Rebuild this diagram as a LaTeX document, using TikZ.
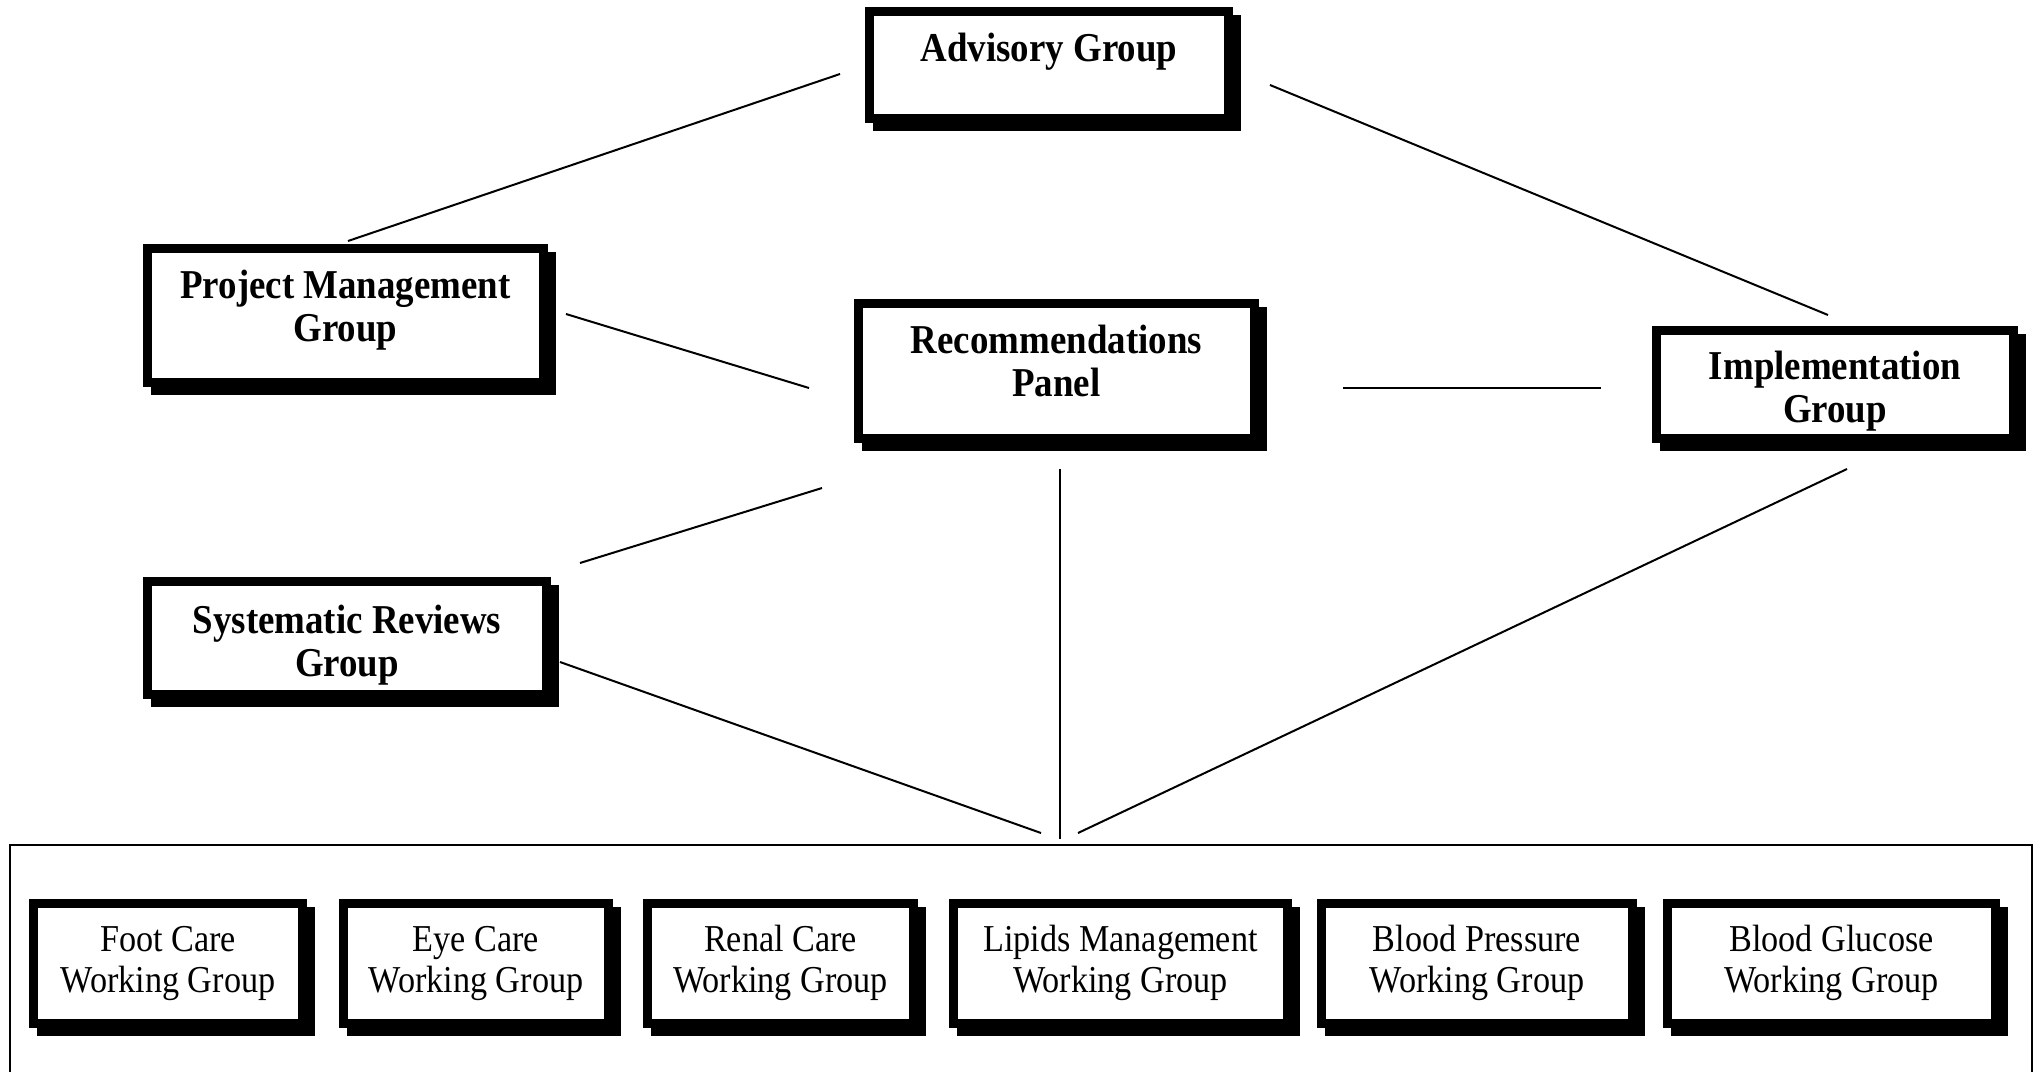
\documentclass[tikz,border=0pt]{standalone}
\usepackage{fontspec}
\setmainfont{Liberation Serif}[FakeStretch=0.9]
\usetikzlibrary{backgrounds}
\begin{document}
\begin{tikzpicture}[x=1pt,y=-1pt,
  box/.style={draw=black, line width=9pt, fill=white, inner sep=0pt, outer sep=4.5pt},
  shade/.style={fill=black},
  head/.style={font=\fontsize{41}{43}\selectfont\bfseries, anchor=base, inner sep=0pt},
  wtext/.style={font=\fontsize{38}{42}\selectfont, anchor=base, inner sep=0pt},
  conn/.style={line width=2pt, line cap=butt},
  frame/.style={line width=2.5pt}]
\useasboundingbox (0,0) rectangle (2042,1071);

% top-level boxes
\node[box, minimum width=359pt, minimum height=107pt] (A) at (1049,65) {};
\node[head] (A1) at (1049,61) {Advisory Group};

\node[box, minimum width=396pt, minimum height=134pt] (P) at (345.5,315.5) {};
\node[head] (P1) at (345.5,298) {Project Management};
\node[head] (P2) at (345.5,341) {Group};

\node[box, minimum width=396pt, minimum height=135pt] (R) at (1056.5,371) {};
\node[head] (R1) at (1056.5,353) {Recommendations};
\node[head] (R2) at (1056.5,396) {Panel};

\node[box, minimum width=399pt, minimum height=113pt] (S) at (347,638) {};
\node[head] (S1) at (347,633) {Systematic Reviews};
\node[head] (S2) at (347,676) {Group};

\node[box, minimum width=357pt, minimum height=108pt] (I) at (1835,384.5) {};
\node[head] (I1) at (1835,379) {Implementation};
\node[head] (I2) at (1835,422) {Group};

% working groups frame
\coordinate (FL) at (10,1080);
\coordinate (FTL) at (10,845);
\coordinate (FTR) at (2032,845);
\coordinate (FR) at (2032,1080);
\draw[frame] (FL) -- (FTL) -- (FTR) -- (FR);

\node[box, minimum width=269pt, minimum height=120pt] (W1) at (168,963.5) {};
\node[wtext] (W1a) at (168,951) {Foot Care};
\node[wtext] (W1b) at (168,992) {Working Group};

\node[box, minimum width=265pt, minimum height=120pt] (W2) at (476,963.5) {};
\node[wtext] (W2a) at (476,951) {Eye Care};
\node[wtext] (W2b) at (476,992) {Working Group};

\node[box, minimum width=266pt, minimum height=120pt] (W3) at (780.5,963.5) {};
\node[wtext] (W3a) at (780.5,951) {Renal Care};
\node[wtext] (W3b) at (780.5,992) {Working Group};

\node[box, minimum width=334pt, minimum height=120pt] (W4) at (1120.5,963.5) {};
\node[wtext] (W4a) at (1120.5,951) {Lipids Management};
\node[wtext] (W4b) at (1120.5,992) {Working Group};

\node[box, minimum width=311pt, minimum height=120pt] (W5) at (1477,963.5) {};
\node[wtext] (W5a) at (1477,951) {Blood Pressure};
\node[wtext] (W5b) at (1477,992) {Working Group};

\node[box, minimum width=328pt, minimum height=120pt] (W6) at (1831.5,963.5) {};
\node[wtext] (W6a) at (1831.5,951) {Blood Glucose};
\node[wtext] (W6b) at (1831.5,992) {Working Group};

% shadows
\begin{scope}[on background layer]
\foreach \n in {A,P,R,S,I,W1,W2,W3,W4,W5,W6}{
  \fill[shade] ([shift={(8,8)}]\n.north west) rectangle ([shift={(8,8)}]\n.south east);
}
\end{scope}

% connector end points
\coordinate (cAP1) at (840,74);   \coordinate (cAP2) at (348,241);
\coordinate (cAI1) at (1270,85);  \coordinate (cAI2) at (1828,315);
\coordinate (cPR1) at (566,314);  \coordinate (cPR2) at (809,388);
\coordinate (cRI1) at (1343,388); \coordinate (cRI2) at (1601,388);
\coordinate (cRS1) at (822,488);  \coordinate (cRS2) at (580,563);
\coordinate (cRW1) at (1060,469); \coordinate (cRW2) at (1060,839);
\coordinate (cSW1) at (560,662);  \coordinate (cSW2) at (1041,833);
\coordinate (cIW1) at (1847,469); \coordinate (cIW2) at (1078,833);

\draw[conn] (cAP1) -- (cAP2);
\draw[conn] (cAI1) -- (cAI2);
\draw[conn] (cPR1) -- (cPR2);
\draw[conn] (cRI1) -- (cRI2);
\draw[conn] (cRS1) -- (cRS2);
\draw[conn] (cRW1) -- (cRW2);
\draw[conn] (cSW1) -- (cSW2);
\draw[conn] (cIW1) -- (cIW2);
\end{tikzpicture}
\end{document}
